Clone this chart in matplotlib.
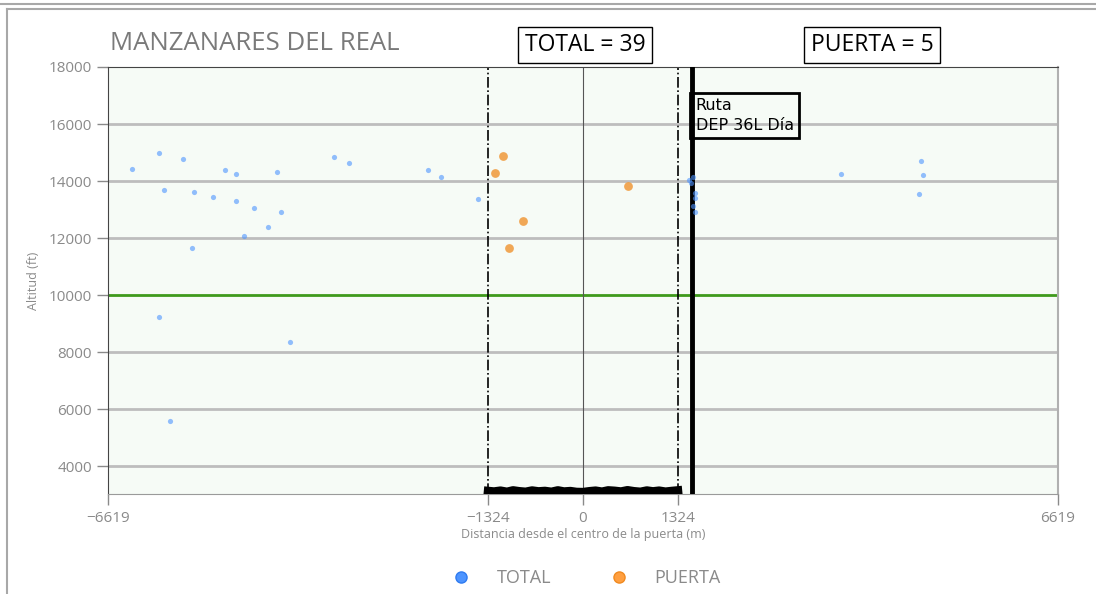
import matplotlib
matplotlib.use('Agg')
import matplotlib.pyplot as plt
from matplotlib.lines import Line2D

# data
total_x = [-6284, -5908, -5838, -5573, -5448, -5420, -5155, -4988, -4835, -4835,
           -4723, -4584, -4389, -4264, -4208, -3469, -3260, -2160, -1979, -1463,
           -5908, -5754, -4083,
           1473, 1537, 1509, 1556, 1556, 1528, 1556,
           3595, 4710, 4737, 4682]
total_y = [14421, 14982, 13684, 14772, 11649, 13614, 13439, 14386, 14246, 13298,
           12070, 13053, 12386, 14316, 12912, 14842, 14632, 14386, 14140, 13368,
           9228, 5579, 8351,
           14035, 14151, 13940, 13589, 13393, 13123, 12902,
           14246, 14702, 14211, 13544]
puerta_x = [-1119, -1226, 627, -832, -1031]
puerta_y = [14877, 14291, 13835, 12586, 11639]

# gate ground track (jagged strip at the bottom)
strip_x = [-1324, -1240, -1150, -1060, -975, -890, -800, -710, -620, -530,
           -440, -350, -265, -175, -90, 0, 90, 175, 265, 350,
           440, 530, 620, 710, 800, 890, 975, 1060, 1150, 1240, 1324]
strip_y = [3130, 3110, 3140, 3100, 3150, 3120, 3100, 3145, 3115, 3130,
           3100, 3150, 3110, 3125, 3095, 3090, 3120, 3140, 3105, 3150,
           3135, 3110, 3155, 3120, 3100, 3145, 3115, 3140, 3105, 3130, 3150]

gate = 1324
limit = 6619
route_x = 1519
ceiling = 10000
n_total = 39
n_puerta = 5

grey = '#8a8a8a'
plt.rcParams['font.family'] = ['Open Sans', 'DejaVu Sans']

fig = plt.figure(figsize=(10.96, 5.94), dpi=100)
ax = fig.add_axes([108 / 1096, 1 - 494 / 594, 950 / 1096, 427 / 594])
ax.set_facecolor('#f6fbf6')

ax.set_xlim(-limit, limit)
ax.set_ylim(3020, 18000)
ax.set_yticks(range(4000, 18001, 2000))
ax.set_xticks([-limit, -gate, 0, gate, limit])
ax.set_xticklabels(['\u2212%d' % limit, '\u2212%d' % gate, '0', str(gate), str(limit)])

for y in range(4000, 18000, 2000):
    if y != ceiling:
        ax.axhline(y, color='#bdbdbd', lw=2, zorder=1)
ax.axhline(ceiling, color='#3f9a1c', lw=2, zorder=2)

ax.axvline(0, color='#555555', lw=0.8, zorder=2)
ax.axvline(-gate, color='black', lw=1.2, ls='-.', zorder=2)
ax.axvline(gate, color='black', lw=1.2, ls='-.', zorder=2)
ax.axvline(route_x, color='black', lw=3.5, zorder=4)

ax.plot(strip_x, strip_y, color='black', lw=6, zorder=3)

ax.scatter(total_x, total_y, s=14, color='#4d94ff', alpha=0.6, lw=0, zorder=5)
ax.scatter(puerta_x, puerta_y, s=40, color='#f0993a', alpha=0.85, lw=0, zorder=5)

ax.tick_params(axis='both', colors=grey, labelsize=11, length=8, width=1)
ax.tick_params(axis='x', pad=4)
for s in ['left', 'top']:
    ax.spines[s].set_color('#444444')
ax.spines['bottom'].set_color('#9a9a9a')
ax.spines['right'].set_color('#b0b0b0')
ax.spines['right'].set_linewidth(1.5)

ax.set_ylabel('Altitud (ft)', color=grey, fontsize=9, labelpad=6)
ax.set_xlabel('Distancia desde el centro de la puerta (m)', color=grey, fontsize=9, labelpad=2)

fig.text(110 / 1096, 1 - 43 / 594, 'MANZANARES DEL REAL', color='#7a7a7a',
         fontsize=18.5, va='center', ha='left')
fig.text(585 / 1096, 1 - 45 / 594, 'TOTAL = %d' % n_total, fontsize=16.5,
         ha='center', va='center',
         bbox=dict(boxstyle='square,pad=0.28', fc='white', ec='black', lw=1))
fig.text(872 / 1096, 1 - 45 / 594, 'PUERTA = %d' % n_puerta, fontsize=16.5,
         ha='center', va='center',
         bbox=dict(boxstyle='square,pad=0.28', fc='white', ec='black', lw=1))

ax.text(route_x + 50, 16900, 'Ruta\nDEP 36L D\u00eda', fontsize=11.5, family='DejaVu Sans',
        ha='left', va='top', zorder=6, linespacing=1.35,
        bbox=dict(boxstyle='square,pad=0.33', fc='none', ec='black', lw=2))

handles = [Line2D([], [], ls='', marker='o', ms=8, mfc='#4d94ff', mec='#2f7bf0'),
           Line2D([], [], ls='', marker='o', ms=8, mfc='#ff9f40', mec='#f08a20')]
fig.legend(handles, ['TOTAL', 'PUERTA'], loc='center', ncol=2, frameon=False,
           bbox_to_anchor=(582 / 1096, 1 - 578 / 594), fontsize=13,
           labelcolor=grey, handletextpad=1.0, columnspacing=2.7)

# notebook cell frame
frame = '#a8a8a8'
fig.add_artist(Line2D([0, 1], [1 - 4 / 594, 1 - 4 / 594], color=frame, lw=1.5))
fig.add_artist(Line2D([7 / 1096, 1], [1 - 9 / 594, 1 - 9 / 594], color=frame, lw=1.5))
fig.add_artist(Line2D([7 / 1096, 7 / 1096], [0, 1 - 9 / 594], color=frame, lw=1.5))

fig.savefig('out.png', dpi=100)
